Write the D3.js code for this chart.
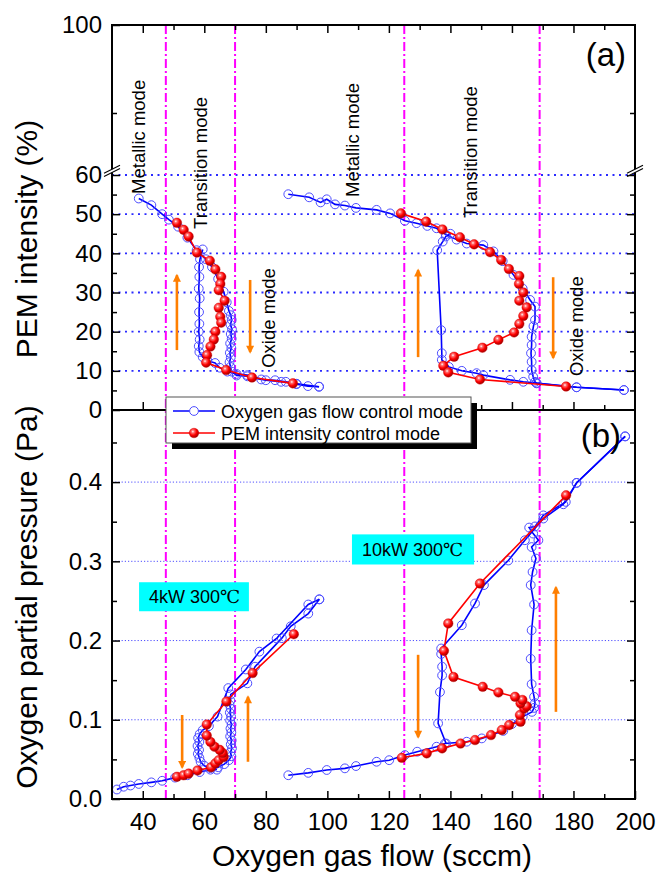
<!DOCTYPE html>
<html>
<head>
  <meta charset="utf-8">
  <title>PEM intensity / oxygen partial pressure vs oxygen gas flow</title>
  <script src="https://d3js.org/d3.v7.min.js"></script>
  <style>
    body { margin: 0; background: #fff; }
    svg text { font-family: "Liberation Sans", Arial, sans-serif; fill: #000; }
  </style>
</head>
<body>
<script>

// ---- data: [oxygen gas flow (sccm), value] ----
// (a) PEM intensity (%)
var pem4kFlowUp = [[38.7,54.0],[42.8,52.3],[46.3,50.0],[48.5,48.6],[51.5,46.8],[54.5,44.0],[57.5,40.8],[60.5,38.5],[62.5,36.5],[64.5,33.5],[66.3,30.2],[67.3,27.5],[68.0,25.3],[68.6,24.2],[68.9,23.0],[68.5,21.8],[69.0,20.6],[68.6,19.4],[68.9,18.2],[68.4,17.0],[68.8,15.8],[68.3,14.6],[68.6,13.4],[68.2,12.2],[68.5,11.0],[68.9,9.8],[70.5,8.8],[74.0,8.6],[78.5,7.8],[83.0,7.6],[86.5,7.2],[90.0,6.6],[93.7,6.1],[97.3,5.95]];
var pem4kFlowDown = [[97.3,5.95],[90.0,6.7],[85.0,7.2],[80.0,7.6],[74.0,8.9],[70.5,9.2],[67.5,9.8],[65.0,10.8],[63.5,12.0],[61.0,12.6],[59.5,13.5],[58.4,14.8],[58.2,16.3],[58.5,18.0],[58.2,20.0],[58.4,22.0],[58.3,25.0],[58.5,28.5],[58.2,31.0],[58.4,34.0],[58.3,36.5],[58.6,38.5],[59.5,41.0]];
var pem4kPemCtrl = [[51.1,47.8],[53.3,46.0],[54.9,44.3],[57.6,40.2],[61.8,38.1],[63.6,35.9],[65.5,34.0],[65.2,32.2],[64.7,30.6],[66.6,27.9],[64.7,26.1],[65.2,23.8],[65.5,22.3],[63.6,20.0],[63.1,18.0],[62.0,16.2],[60.9,14.0],[60.6,12.1],[67.1,10.2],[75.5,8.3],[88.8,6.8]];

var pem10kFlowUp = [[87.3,55.1],[94.1,54.3],[97.8,53.0],[99.8,53.8],[102.5,52.5],[105.7,52.2],[109.3,51.6],[116.0,51.1],[120.4,50.2],[125.2,48.3],[129.0,47.7],[132.5,47.0],[135.5,46.4],[138.5,44.8],[142.0,43.5],[145.3,42.5],[150.7,42.1],[154.0,40.5],[157.0,38.0],[160.5,34.5],[163.5,31.0],[165.9,28.1],[167.5,26.4],[167.5,23.0],[167.0,21.4],[166.4,18.7],[166.4,16.6],[166.2,14.5],[166.4,12.3],[166.4,10.2],[166.9,8.5],[167.5,7.2],[168.0,6.8],[181.0,5.8],[196.4,5.1]];
var pem10kFlowDown = [[196.4,5.1],[181.0,5.8],[168.0,6.9],[163.7,7.2],[159.4,7.7],[150.7,8.9],[148.5,9.4],[143.7,10.0],[139.5,11.0],[137.2,12.8],[137.2,14.5],[137.0,20.4],[135.7,40.8],[137.5,43.0],[138.5,44.3],[140.0,45.0]];
var pem10kPemCtrl = [[123.9,50.2],[132.1,48.1],[137.4,46.1],[143.1,44.1],[147.7,42.3],[152.9,40.3],[156.5,38.3],[159.0,36.0],[162.4,34.2],[162.3,32.2],[163.7,30.0],[162.4,27.9],[164.8,26.2],[163.7,24.0],[162.4,22.0],[160.7,19.8],[155.6,17.9],[150.4,15.9],[141.2,13.6],[137.7,11.3],[139.3,9.6],[149.6,7.8],[177.6,6.0]];

// (b) oxygen partial pressure (Pa)
var pa4kFlowUp = [[31.6,0.012],[33.8,0.0155],[36.0,0.017],[38.7,0.019],[42.8,0.021],[46.3,0.023],[50.5,0.027],[54.5,0.030],[58.5,0.034],[62.0,0.037],[64.5,0.040],[66.5,0.044],[68.0,0.049],[68.8,0.054],[68.5,0.059],[69.0,0.064],[68.6,0.069],[68.9,0.074],[68.4,0.079],[68.8,0.084],[68.5,0.089],[68.9,0.094],[68.4,0.099],[68.7,0.104],[68.3,0.109],[68.6,0.114],[68.2,0.119],[68.5,0.124],[68.6,0.132],[74.0,0.146],[76.5,0.167],[85.2,0.203],[88.1,0.218],[93.8,0.234],[97.4,0.252]];
var pa4kFlowDown = [[97.4,0.252],[93.8,0.2455],[83.5,0.2026],[77.9,0.186],[73.5,0.1635],[67.8,0.140],[64.3,0.104],[61.5,0.092],[59.5,0.087],[58.5,0.082],[58.0,0.077],[58.4,0.072],[57.8,0.067],[58.3,0.062],[57.9,0.057],[58.4,0.052],[58.8,0.047],[60.0,0.042],[62.0,0.039],[64.1,0.037]];
var pa4kPemCtrl = [[51.1,0.028],[53.3,0.030],[54.9,0.032],[57.8,0.036],[62.2,0.040],[63.6,0.045],[64.7,0.049],[66.3,0.053],[66.0,0.058],[65.0,0.062],[63.3,0.066],[62.0,0.072],[60.8,0.080],[60.8,0.094],[67.2,0.123],[75.7,0.159],[89.1,0.208]];

var pa10kFlowUp = [[87.3,0.030],[93.8,0.033],[99.8,0.0366],[105.7,0.0387],[109.3,0.0416],[116.0,0.047],[120.1,0.049],[125.2,0.0555],[129.2,0.0597],[135.5,0.066],[138.2,0.070],[145.3,0.0723],[150.2,0.0765],[157.2,0.086],[160.0,0.0946],[163.5,0.104],[166.5,0.110],[167.2,0.115],[167.5,0.121],[167.2,0.129],[166.4,0.145],[166.1,0.177],[166.4,0.213],[167.2,0.2455],[166.1,0.270],[166.7,0.2866],[167.8,0.3035],[166.4,0.318],[168.6,0.3266],[166.9,0.335],[165.6,0.3426],[167.5,0.344],[170.2,0.358],[177.5,0.375],[181.0,0.399],[196.8,0.4577]];
var pa10kFlowDown = [[196.8,0.4577],[181.0,0.399],[176.7,0.372],[170.2,0.354],[164.2,0.3266],[158.8,0.301],[150.9,0.270],[148.0,0.2468],[143.7,0.2194],[137.0,0.190],[137.0,0.183],[137.3,0.167],[137.3,0.156],[136.6,0.135],[136.0,0.0954],[138.6,0.070]];
var pa10kPemCtrl = [[124.2,0.052],[132.3,0.0576],[137.3,0.0639],[143.3,0.070],[148.0,0.0744],[153.2,0.0807],[156.7,0.087],[159.1,0.0933],[162.8,0.0975],[162.6,0.106],[164.0,0.1144],[164.8,0.117],[162.8,0.1207],[163.4,0.125],[161.0,0.129],[155.6,0.1345],[150.5,0.1416],[141.0,0.154],[137.9,0.187],[139.3,0.2216],[149.6,0.272],[177.6,0.3833]];

// ticks
var flowLabels = [40, 60, 80, 100, 120, 140, 160, 180, 200];
var flowMinor = [50, 70, 90, 110, 130, 150, 170, 190];
var pemLabels = [0, 10, 20, 30, 40, 50, 60, 100];
var pemMinor = [5, 15, 25, 35, 45, 55, 80];
var paLabels = [0, 0.1, 0.2, 0.3, 0.4];
var paMinor = [0.05, 0.15, 0.25, 0.35, 0.45];
var pemGrid = [10, 20, 30, 40, 50, 60];
var paGrid = [0.1, 0.2, 0.3, 0.4];

// mode boundaries (sccm)
var modeBounds = [47.5, 70, 125, 169];

// annotations
var modeLabels = [
  {text: "Metallic mode", x: 38.45, y: 72.3},
  {text: "Transition mode", x: 58.6, y: 63.9},
  {text: "Oxide mode", x: 80.7, y: 23.5},
  {text: "Metallic mode", x: 108.0, y: 71.3},
  {text: "Transition mode", x: 146.4, y: 67.4},
  {text: "Oxide mode", x: 181.1, y: 21.4}
];
var powerBoxes = [
  {text: "4kW 300", x0: 38.8, x1: 74.5, y0: 0.2736, y1: 0.237},
  {text: "10kW 300", x0: 108.0, x1: 147.7, y0: 0.334, y1: 0.296}
];
var arrowsA = [[51.1, 15.3, 34.4], [74.9, 33.2, 14.8], [129.5, 13.5, 35.7], [173.4, 33.9, 13.3]];
var arrowsB = [[52.8, 0.106, 0.040], [74.2, 0.047, 0.129], [129.5, 0.182, 0.078], [174.3, 0.110, 0.267]];

// ---- layout ----
var W = 656, H = 879;
var pLeft = 112, pRight = 635, pTop = 25, pMid = 410, pBottom = 799;

var svg = d3.select("body").append("svg")
    .attr("width", W)
    .attr("height", H);

var defs = svg.append("defs");
var grad = defs.append("radialGradient").attr("id", "ball")
    .attr("cx", "38%").attr("cy", "35%").attr("r", "65%");
grad.append("stop").attr("offset", "0%").attr("stop-color", "#ffffff");
grad.append("stop").attr("offset", "22%").attr("stop-color", "#ff7070");
grad.append("stop").attr("offset", "60%").attr("stop-color", "#ff0000");
grad.append("stop").attr("offset", "100%").attr("stop-color", "#a00000");

defs.append("marker").attr("id", "head")
    .attr("viewBox", "0 0 10 10").attr("refX", 8).attr("refY", 5)
    .attr("markerUnits", "userSpaceOnUse")
    .attr("markerWidth", 11).attr("markerHeight", 8)
    .attr("orient", "auto")
  .append("path").attr("d", "M0,0 L10,5 L0,10 z").attr("fill", "#ff7f00");

var x = d3.scaleLinear().domain([30, 200]).range([pLeft, pRight]);
var yA = d3.scaleLinear().domain([0, 60, 80, 100]).range([pMid, 175, 113, pTop]);
var yB = d3.scaleLinear().domain([0, 0.491]).range([pBottom, pMid]);

// grid
svg.append("g").selectAll("line").data(pemGrid).enter().append("line")
    .attr("x1", pLeft).attr("x2", pRight)
    .attr("y1", function(d) { return yA(d); }).attr("y2", function(d) { return yA(d); })
    .attr("stroke", "#2a2aff").attr("stroke-width", 1.8).attr("stroke-dasharray", "2,4.5");
svg.append("g").selectAll("line").data(paGrid).enter().append("line")
    .attr("x1", pLeft).attr("x2", pRight)
    .attr("y1", function(d) { return yB(d); }).attr("y2", function(d) { return yB(d); })
    .attr("stroke", "#3a3aff").attr("stroke-width", 0.9).attr("stroke-dasharray", "1.2,2");

// mode boundaries
svg.append("g").selectAll("line").data(modeBounds).enter().append("line")
    .attr("x1", function(d) { return x(d); }).attr("x2", function(d) { return x(d); })
    .attr("y1", pTop).attr("y2", pBottom)
    .attr("stroke", "#ff00ff").attr("stroke-width", 2).attr("stroke-dasharray", "9,3,2,3");

// series
var lineA = d3.line().x(function(d) { return x(d[0]); }).y(function(d) { return yA(d[1]); });
var lineB = d3.line().x(function(d) { return x(d[0]); }).y(function(d) { return yB(d[1]); });

function flowSeries(data, ln, ys) {
  svg.append("path").attr("d", ln(data))
      .attr("fill", "none").attr("stroke", "#0000ff").attr("stroke-width", 1.6);
  svg.append("g").selectAll("circle").data(data).enter().append("circle")
      .attr("cx", function(d) { return x(d[0]); })
      .attr("cy", function(d) { return ys(d[1]); })
      .attr("r", 4.4)
      .attr("fill", "none").attr("stroke", "#4d4dff").attr("stroke-width", 1);
}
function pemSeries(data, ln, ys) {
  svg.append("path").attr("d", ln(data))
      .attr("fill", "none").attr("stroke", "#ff0000").attr("stroke-width", 1.6);
  svg.append("g").selectAll("circle").data(data).enter().append("circle")
      .attr("cx", function(d) { return x(d[0]); })
      .attr("cy", function(d) { return ys(d[1]); })
      .attr("r", 4.8)
      .attr("fill", "url(#ball)").attr("stroke", "#cc0000").attr("stroke-width", 0.4);
}

flowSeries(pem4kFlowUp, lineA, yA);
flowSeries(pem4kFlowDown, lineA, yA);
flowSeries(pem10kFlowUp, lineA, yA);
flowSeries(pem10kFlowDown, lineA, yA);
flowSeries(pa4kFlowUp, lineB, yB);
flowSeries(pa4kFlowDown, lineB, yB);
flowSeries(pa10kFlowUp, lineB, yB);
flowSeries(pa10kFlowDown, lineB, yB);
pemSeries(pem4kPemCtrl, lineA, yA);
pemSeries(pem10kPemCtrl, lineA, yA);
pemSeries(pa4kPemCtrl, lineB, yB);
pemSeries(pa10kPemCtrl, lineB, yB);

// arrows
svg.append("g").selectAll("line").data(arrowsA).enter().append("line")
    .attr("x1", function(d) { return x(d[0]); }).attr("x2", function(d) { return x(d[0]); })
    .attr("y1", function(d) { return yA(d[1]); }).attr("y2", function(d) { return yA(d[2]); })
    .attr("stroke", "#ff7f00").attr("stroke-width", 2.6).attr("marker-end", "url(#head)");
svg.append("g").selectAll("line").data(arrowsB).enter().append("line")
    .attr("x1", function(d) { return x(d[0]); }).attr("x2", function(d) { return x(d[0]); })
    .attr("y1", function(d) { return yB(d[1]); }).attr("y2", function(d) { return yB(d[2]); })
    .attr("stroke", "#ff7f00").attr("stroke-width", 2.6).attr("marker-end", "url(#head)");

// mode labels
svg.append("g").selectAll("text").data(modeLabels).enter().append("text")
    .attr("transform", function(d) { return "translate(" + (x(d.x) + 6.6) + "," + yA(d.y) + ") rotate(-90)"; })
    .attr("text-anchor", "middle")
    .attr("font-size", 18.5)
    .text(function(d) { return d.text; });

// power boxes
var pb = svg.append("g").selectAll("g").data(powerBoxes).enter().append("g");
pb.append("rect")
    .attr("x", function(d) { return x(d.x0); })
    .attr("y", function(d) { return yB(d.y0); })
    .attr("width", function(d) { return x(d.x1) - x(d.x0); })
    .attr("height", function(d) { return yB(d.y1) - yB(d.y0); })
    .attr("fill", "#00ffff");
var pbt = pb.append("text")
    .attr("x", function(d) { return x(d.x0) + 10; })
    .attr("y", function(d) { return (yB(d.y0) + yB(d.y1)) / 2 + 6.5; })
    .attr("font-size", 18);
pbt.append("tspan").text(function(d) { return d.text; });
pbt.append("tspan").attr("font-family", "'DejaVu Serif', 'DejaVu Sans', serif").attr("font-size", 18).text("\u2103");

// frame
var frame = svg.append("g").attr("stroke", "#000").attr("stroke-width", 2).attr("fill", "none");
frame.append("rect").attr("x", pLeft).attr("y", pTop).attr("width", pRight - pLeft).attr("height", pBottom - pTop);
frame.append("line").attr("x1", pLeft).attr("x2", pRight).attr("y1", pMid).attr("y2", pMid);

// axes
function style(g) {
  g.select(".domain").remove();
  g.selectAll(".tick line").attr("stroke", "#000").attr("stroke-width", 1.5);
  g.selectAll(".tick text").attr("font-size", 24).attr("fill", "#000");
}

svg.append("g").attr("transform", "translate(" + pLeft + ",0)")
    .call(d3.axisLeft(yA).tickValues(pemLabels).tickSize(-8).tickPadding(10).tickFormat(d3.format("d")))
    .call(style);
svg.append("g").attr("transform", "translate(" + pLeft + ",0)")
    .call(d3.axisLeft(yA).tickValues(pemMinor).tickSize(-5).tickFormat(""))
    .call(style);
svg.append("g").attr("transform", "translate(" + pRight + ",0)")
    .call(d3.axisRight(yA).tickValues(pemLabels.slice(1, 7)).tickSize(-8).tickFormat(""))
    .call(style);
svg.append("g").attr("transform", "translate(" + pRight + ",0)")
    .call(d3.axisRight(yA).tickValues(pemMinor).tickSize(-5).tickFormat(""))
    .call(style);

svg.append("g").attr("transform", "translate(" + pLeft + ",0)")
    .call(d3.axisLeft(yB).tickValues(paLabels).tickSize(-8).tickPadding(10).tickFormat(d3.format(".1f")))
    .call(style);
svg.append("g").attr("transform", "translate(" + pLeft + ",0)")
    .call(d3.axisLeft(yB).tickValues(paMinor).tickSize(-5).tickFormat(""))
    .call(style);
svg.append("g").attr("transform", "translate(" + pRight + ",0)")
    .call(d3.axisRight(yB).tickValues(paLabels.slice(1)).tickSize(-8).tickFormat(""))
    .call(style);
svg.append("g").attr("transform", "translate(" + pRight + ",0)")
    .call(d3.axisRight(yB).tickValues(paMinor).tickSize(-5).tickFormat(""))
    .call(style);

[pTop, pMid].forEach(function(yy) {
  var ax = yy === pTop ? d3.axisTop : d3.axisBottom;
  svg.append("g").attr("transform", "translate(0," + yy + ")")
      .call(ax(x).tickValues(flowLabels.slice(0, 8)).tickSize(-8).tickFormat(""))
      .call(style);
  svg.append("g").attr("transform", "translate(0," + yy + ")")
      .call(ax(x).tickValues(flowMinor).tickSize(-5).tickFormat(""))
      .call(style);
});
svg.append("g").attr("transform", "translate(0," + pBottom + ")")
    .call(d3.axisBottom(x).tickValues(flowLabels).tickSize(-8).tickPadding(14))
    .call(style);
svg.append("g").attr("transform", "translate(0," + pBottom + ")")
    .call(d3.axisBottom(x).tickValues(flowMinor).tickSize(-5).tickFormat(""))
    .call(style);

// axis break marks at 60 %
[pLeft, pRight].forEach(function(ax) {
  var yb = yA(60) - 4;
  svg.append("path")
      .attr("d", "M" + (ax - 7) + "," + (yb + 5) + "L" + (ax + 7) + "," + (yb - 2) + "L" + (ax + 7) + "," + (yb - 5) + "L" + (ax - 7) + "," + (yb + 2) + "Z")
      .attr("fill", "#fff");
  [0, 3.2].forEach(function(o) {
    svg.append("line")
        .attr("x1", ax - 8).attr("y1", yb + 4 - o + 1.5)
        .attr("x2", ax + 8).attr("y2", yb - 4 - o + 1.5)
        .attr("stroke", "#000").attr("stroke-width", 1.2);
  });
});

// panel tags
svg.append("text").attr("x", 626).attr("y", 66).attr("text-anchor", "end").attr("font-size", 33).text("(a)");
svg.append("text").attr("x", 621).attr("y", 447).attr("text-anchor", "end").attr("font-size", 33).text("(b)");

// axis titles
svg.append("text").attr("transform", "translate(37,239) rotate(-90)")
    .attr("text-anchor", "middle").attr("font-size", 30).text("PEM intensity (%)");
svg.append("text").attr("transform", "translate(37,597) rotate(-90)")
    .attr("text-anchor", "middle").attr("font-size", 30).text("Oxygen partial pressure (Pa)");
svg.append("text").attr("x", 372).attr("y", 866)
    .attr("text-anchor", "middle").attr("font-size", 30).text("Oxygen gas flow (sccm)");

// legend
var lg = svg.append("g").attr("transform", "translate(166,397)");
lg.append("rect").attr("x", 6).attr("y", 6).attr("width", 305).attr("height", 46).attr("fill", "#000");
lg.append("rect").attr("width", 305).attr("height", 46).attr("fill", "#fff").attr("stroke", "#555").attr("stroke-width", 1);
lg.append("line").attr("x1", 7).attr("x2", 49).attr("y1", 14).attr("y2", 14).attr("stroke", "#0000ff").attr("stroke-width", 1.6);
lg.append("circle").attr("cx", 28).attr("cy", 14).attr("r", 4.4).attr("fill", "#fff").attr("stroke", "#4d4dff");
lg.append("text").attr("x", 55).attr("y", 20.5).attr("font-size", 18).text("Oxygen gas flow control mode");
lg.append("line").attr("x1", 7).attr("x2", 49).attr("y1", 36).attr("y2", 36).attr("stroke", "#ff0000").attr("stroke-width", 1.6);
lg.append("circle").attr("cx", 28).attr("cy", 36).attr("r", 4.8).attr("fill", "url(#ball)").attr("stroke", "#cc0000").attr("stroke-width", 0.4);
lg.append("text").attr("x", 55).attr("y", 42.5).attr("font-size", 18).text("PEM intensity control mode");

</script>
</body>
</html>
